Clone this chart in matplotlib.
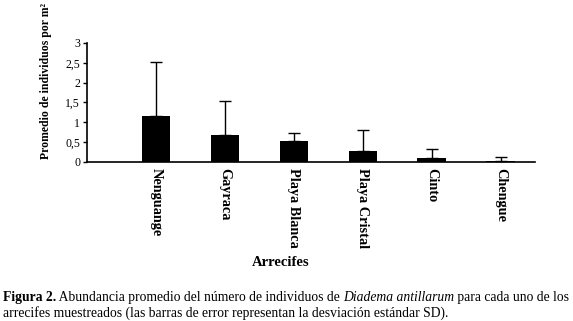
import matplotlib
matplotlib.use("Agg")
import matplotlib.pyplot as plt
import numpy as np

# datos
arrecifes = ["Nenguange", "Gayraca", "Playa Blanca", "Playa Cristal", "Cinto", "Chengue"]
promedio = [1.16, 0.685, 0.535, 0.284, 0.109, 0.033]
desv = [1.35, 0.845, 0.20, 0.516, 0.225, 0.092]
yticks = [0, 0.5, 1, 1.5, 2, 2.5, 3]
ytick_labels = ["0", "0,5", "1", "1,5", "2", "2,5", "3"]

plt.rcParams["font.family"] = ["Liberation Serif", "DejaVu Serif"]

W, H = 573, 321
fig = plt.figure(figsize=(W / 100, H / 100), dpi=100)
ax = fig.add_axes([87 / W, 1 - 162 / H, (535 - 87) / W, (162 - 43) / H])

x = np.arange(len(arrecifes))
ax.bar(x, promedio, width=0.41, color="black",
       yerr=[np.zeros(len(desv)), desv], capsize=4,
       error_kw=dict(elinewidth=1, capthick=1, ecolor="black"))

ax.set_xlim(-1, 5.5)
ax.set_ylim(0, 3)
ax.set_yticks(yticks)
ax.set_yticklabels(ytick_labels, fontsize=8.5)
ax.set_xticks(x)
ax.set_xticklabels(arrecifes, rotation=-90, fontsize=10.3, fontweight="bold", va="top")
ax.tick_params(axis="x", length=0, pad=4)
ax.tick_params(axis="y", length=3, width=1, direction="out", pad=2)
for s in ["top", "right"]:
    ax.spines[s].set_visible(False)
for s in ["left", "bottom"]:
    ax.spines[s].set_linewidth(1.2)

fig.text(46 / W, 1 - 81 / H, "Promedio de individuos por m²", rotation=90,
         ha="center", va="center", fontsize=8.5, fontweight="bold")
fig.text(281 / W, 1 - 262 / H, "Arrecifes", ha="center", va="center",
         fontsize=10.5, fontweight="bold")

# pie de figura con estilos mezclados
def linea(partes, x0, y0):
    fig.canvas.draw()
    r = fig.canvas.get_renderer()
    xx = x0
    for txt, kw in partes:
        t = fig.text(xx / W, 1 - y0 / H, txt, fontsize=9.8, va="baseline", **kw)
        bb = t.get_window_extent(renderer=r)
        xx += bb.width

linea([("Figura 2.", dict(fontweight="bold")),
       (" Abundancia promedio del número de individuos de ", {}),
       ("Diadema antillarum", dict(style="italic")),
       (" para cada uno de los", {})], 3, 301)
linea([("arrecifes muestreados (las barras de error representan la desviación estándar SD).", {})], 3, 317)

fig.savefig("out.png", dpi=100)
